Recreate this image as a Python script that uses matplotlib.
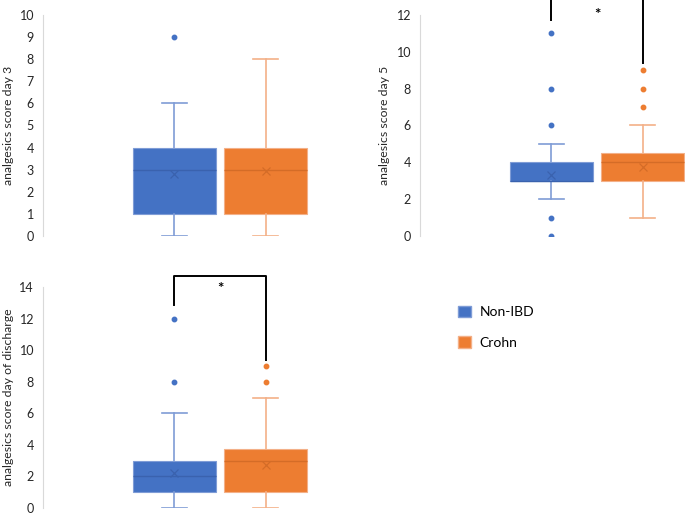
import numpy as np
import matplotlib.pyplot as plt
from matplotlib.patches import Patch

plt.rcParams['font.family'] = ['Lato', 'DejaVu Sans']

groups = ["Non-IBD", "Crohn"]
colors = ["#4472C4", "#ED7D31"]
whisker_colors = ["#7F9CD6", "#F3B088"]
median_colors = ["#3A62AE", "#D46C27"]

# analgesics score day 3
d3_whislo = [0, 0]
d3_q1 = [1, 1]
d3_med = [3, 3]
d3_q3 = [4, 4]
d3_whishi = [6, 8]
d3_mean = [2.8, 2.95]
d3_fliers = [[9], []]

# analgesics score day 5
d5_whislo = [2, 1]
d5_q1 = [3, 3]
d5_med = [3, 4]
d5_q3 = [4, 4.5]
d5_whishi = [5, 6]
d5_mean = [3.3, 3.75]
d5_fliers = [[0, 1, 6, 8, 11], [7, 8, 9]]

# analgesics score day of discharge
dd_whislo = [0, 0]
dd_q1 = [1, 1]
dd_med = [2, 3]
dd_q3 = [3, 3.75]
dd_whishi = [6, 7]
dd_mean = [2.2, 2.7]
dd_fliers = [[8, 12], [8, 9]]

W, H = 685, 513
fig = plt.figure(figsize=(W / 100, H / 100), dpi=100)


def px_axes(left, top, right, bottom):
    return fig.add_axes([left / W, 1 - bottom / H, (right - left) / W, (bottom - top) / H])


def draw_box(ax, whislo, q1, med, q3, whishi, mean, fliers, ymax, ystep, ylabel, label_x):
    stats = []
    for i in range(2):
        stats.append(dict(whislo=whislo[i], q1=q1[i], med=med[i], q3=q3[i],
                          whishi=whishi[i], mean=mean[i], fliers=fliers[i]))
    res = ax.bxp(stats, positions=[-0.258, 0.258], widths=0.47, capwidths=0.142,
                 patch_artist=True, showmeans=True)
    for i in range(2):
        res['boxes'][i].set_facecolor(colors[i])
        res['boxes'][i].set_edgecolor(whisker_colors[i])
        res['boxes'][i].set_linewidth(0.8)
        res['medians'][i].set_color(median_colors[i])
        res['medians'][i].set_linewidth(1.0)
        for ln in res['whiskers'][2 * i:2 * i + 2] + res['caps'][2 * i:2 * i + 2]:
            ln.set_color(whisker_colors[i])
            ln.set_linewidth(1.2)
        res['fliers'][i].set(marker='o', markersize=3.2, markerfacecolor=colors[i],
                             markeredgecolor=colors[i])
        res['means'][i].set(marker='x', markersize=6, markeredgecolor=median_colors[i],
                            markeredgewidth=0.9)
    ax.set_xlim(-1, 1)
    ax.set_ylim(0, ymax)
    ax.set_yticks(np.arange(0, ymax + 1, ystep))
    ax.set_xticks([])
    for s in ['top', 'right', 'bottom']:
        ax.spines[s].set_visible(False)
    ax.spines['left'].set_color('#D9D9D9')
    ax.tick_params(axis='y', length=0, pad=6.5, labelsize=9, labelcolor='#262626')
    ax.set_ylabel(ylabel, fontsize=8.8, color='#262626')
    ax.yaxis.set_label_coords(label_x, 0.5)
    ax.patch.set_alpha(0)


def bracket(ax, x0, x1, top, left_bottom, right_bottom, star_y):
    ax.plot([x0, x0, x1, x1], [left_bottom, top, top, right_bottom], color='black',
            linewidth=1.4, clip_on=False)
    ax.text((x0 + x1) / 2, star_y, '*', ha='center', va='center', fontsize=11,
            fontweight='bold', clip_on=False)


ax1 = px_axes(43, 15, 397, 236)
draw_box(ax1, d3_whislo, d3_q1, d3_med, d3_q3, d3_whishi, d3_mean, d3_fliers,
         10, 1, "analgesics score day 3", (14 - 43) / 354)

ax2 = px_axes(420, 15, 774, 236)
draw_box(ax2, d5_whislo, d5_q1, d5_med, d5_q3, d5_whishi, d5_mean, d5_fliers,
         12, 2, "analgesics score day 5", (390 - 420) / 354)
bracket(ax2, -0.258, 0.258, 12.85, 11.75, 9.4, 12.0)

ax3 = px_axes(43, 287, 397, 508)
draw_box(ax3, dd_whislo, dd_q1, dd_med, dd_q3, dd_whishi, dd_mean, dd_fliers,
         14, 2, "analgesics score day of discharge", (14 - 43) / 354)
bracket(ax3, -0.258, 0.258, 14.68, 12.85, 9.37, 13.9)

handles = [Patch(facecolor=colors[i], edgecolor=whisker_colors[i]) for i in range(2)]
fig.legend(handles, groups, loc='upper left', bbox_to_anchor=(445 / W, 1 - 293 / H),
           frameon=False, fontsize=10, handlelength=1.0, handleheight=0.95,
           handletextpad=0.6, labelspacing=1.3)

fig.savefig('out.png', dpi=100)
